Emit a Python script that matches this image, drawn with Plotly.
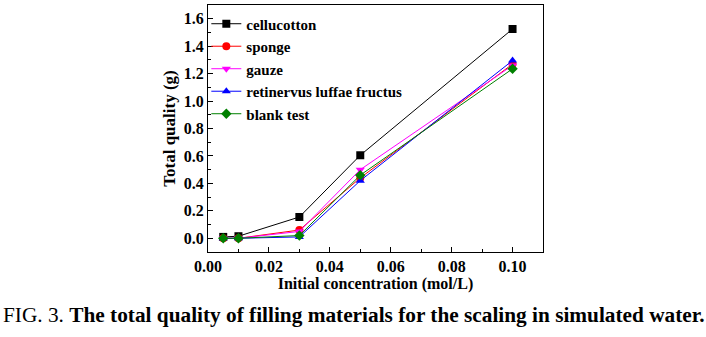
import plotly.graph_objects as go

conc = [0.005, 0.01, 0.03, 0.05, 0.1]
cellucotton = [0.01, 0.015, 0.155, 0.605, 1.525]
sponge = [0.0, 0.0, 0.06, 0.44, 1.27]
gauze = [0.0, 0.0, 0.05, 0.50, 1.26]
retinervus = [0.0, 0.0, 0.01, 0.42, 1.295]
blank = [0.0, 0.0, 0.02, 0.46, 1.235]

series = [
    ("cellucotton", cellucotton, "black", "square"),
    ("sponge", sponge, "red", "circle"),
    ("gauze", gauze, "magenta", "triangle-down"),
    ("retinervus luffae fructus", retinervus, "blue", "triangle-up"),
    ("blank test", blank, "green", "diamond"),
]

font_family = "Liberation Serif"

fig = go.Figure()
for name, ys, color, sym in series:
    fig.add_trace(go.Scatter(
        x=conc, y=ys, name=name, mode="lines+markers",
        line=dict(color=color, width=1),
        marker=dict(symbol=sym, size=8, color=color),
    ))

axis_common = dict(
    showline=True, linecolor="black", linewidth=1, mirror=True,
    ticks="inside", ticklen=5, tickcolor="black", tickwidth=1,
    showgrid=False, zeroline=False,
    tickfont=dict(family=font_family, size=16, color="black", weight="bold"),
)

fig.update_layout(
    width=706, height=337,
    margin=dict(l=208, r=163, t=5, b=85),
    paper_bgcolor="white", plot_bgcolor="white",
    font=dict(family=font_family, color="black"),
    xaxis=dict(
        range=[0, 0.11], tickvals=[0, 0.02, 0.04, 0.06, 0.08, 0.10],
        ticktext=["0.00", "0.02", "0.04", "0.06", "0.08", "0.10"],
        minor=dict(dtick=0.01, ticks="inside", ticklen=3, tickcolor="black"),
        title=dict(text="Initial concentration (mol/L)", standoff=0,
                   font=dict(family=font_family, size=16, color="black", weight="bold")),
        **axis_common,
    ),
    yaxis=dict(
        range=[-0.1, 1.7], tickvals=[0, 0.2, 0.4, 0.6, 0.8, 1.0, 1.2, 1.4, 1.6],
        ticktext=["0.0", "0.2", "0.4", "0.6", "0.8", "1.0", "1.2", "1.4", "1.6"],
        minor=dict(dtick=0.1, ticks="inside", ticklen=3, tickcolor="black"),
        title=dict(text="Total quality (g)", standoff=3,
                   font=dict(family=font_family, size=17, color="black", weight="bold")),
        **axis_common,
    ),
    legend=dict(
        x=-0.005, y=0.99, xanchor="left", yanchor="top",
        bgcolor="rgba(0,0,0,0)", borderwidth=0,
        font=dict(family=font_family, size=15, color="black", weight="bold"),
        tracegroupgap=0, itemwidth=30,
    ),
    showlegend=True,
)

fig.add_annotation(
    xref="paper", yref="paper", x=0.5, y=0, yshift=-49, xanchor="center", yanchor="top",
    showarrow=False, xshift=-22,
    text="FIG. 3. <b>The total quality of filling materials for the scaling in simulated water.</b>",
    font=dict(family=font_family, size=21.3, color="black"),
)

fig.write_html("out.html")
